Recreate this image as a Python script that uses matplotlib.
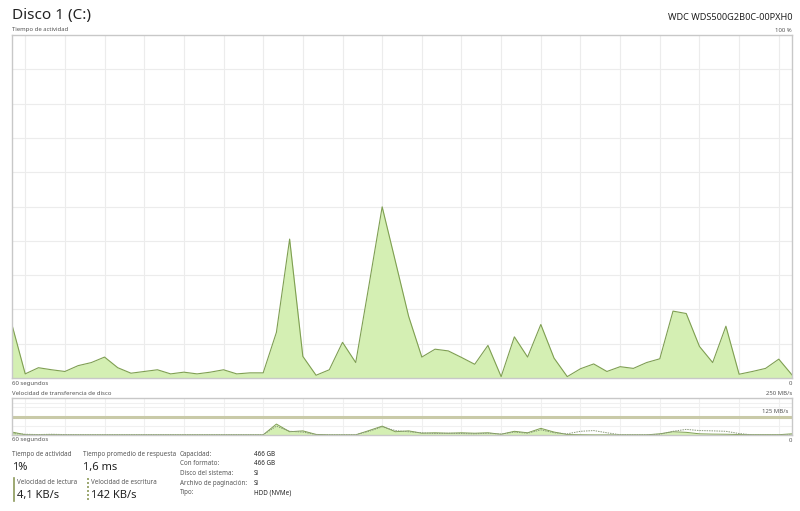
import matplotlib
matplotlib.use('Agg')
import matplotlib.pyplot as plt
import numpy as np

plt.rcParams['font.family'] = ['Noto Sans', 'DejaVu Sans']

# Tiempo de actividad (%), 60 muestras, de 60 segundos a 0
actividad = [15.5, 1.2, 3.0, 2.4, 1.9, 3.6, 4.5, 6.1, 3.0, 1.4,
             1.9, 2.4, 1.2, 1.7, 1.2, 1.7, 2.4, 1.2, 1.5, 1.5,
             13.3, 40.5, 6.3, 0.8, 2.4, 10.4, 4.5, 27.0, 49.9, 34.0,
             18.0, 6.1, 8.4, 7.9, 6.0, 4.0, 9.5, 0.4, 12.0, 6.1,
             15.6, 5.8, 0.4, 2.7, 4.1, 1.9, 3.3, 2.8, 4.5, 5.6,
             19.5, 18.8, 9.2, 4.5, 15.1, 1.1, 1.9, 2.8, 5.5, 0.9]

# Velocidad de transferencia (MB/s)
lectura = [20, 2, 1, 2, 1, 1, 1, 1, 1, 1,
           1, 1, 1, 1, 1, 1, 1, 1, 1, 1,
           74, 22, 28, 4, 1, 1, 1, 30, 60, 22,
           28, 12, 15, 12, 15, 12, 15, 5, 25, 15,
           45, 20, 3, 2, 1, 1, 1, 1, 1, 8,
           22, 18, 8, 6, 5, 3, 2, 2, 2, 8]
escritura = [10, 5, 3, 5, 3, 2, 2, 2, 2, 2,
             2, 2, 2, 2, 2, 2, 2, 2, 2, 2,
             60, 25, 20, 3, 2, 2, 2, 25, 55, 30,
             22, 15, 10, 12, 10, 8, 12, 6, 20, 12,
             35, 15, 8, 25, 30, 15, 2, 2, 2, 5,
             25, 38, 30, 28, 25, 10, 1, 1, 1, 1]

segundos = np.arange(len(actividad))

info_etiquetas = ['Capacidad:', 'Con formato:', 'Disco del sistema:',
                  'Archivo de paginación:', 'Tipo:']
info_valores = ['466 GB', '466 GB', 'Sí', 'Sí', 'HDD (NVMe)']

W, H = 800, 511
fig = plt.figure(figsize=(W / 100, H / 100), dpi=100)
fig.patch.set_facecolor('white')

verde_linea = '#7f9f52'
verde_relleno = '#d4efb3'
borde = '#c8c8c8'
rejilla = '#ececec'
gris_texto = '#555555'


def caja(x0, y0, x1, y1):
    # convierte pixeles (origen arriba a la izquierda) a coordenadas de figura
    return [x0 / W, 1 - y1 / H, (x1 - x0) / W, (y1 - y0) / H]


def texto(x, y, s, size, ha='left', color='#222222', va='center'):
    fig.text(x / W, 1 - y / H, s, fontsize=size, ha=ha, va=va, color=color)


# grafico principal
ax = fig.add_axes(caja(12, 35, 792, 378))
ax.fill_between(segundos, actividad, 0, color=verde_relleno, lw=0)
ax.plot(segundos, actividad, color=verde_linea, lw=0.8)
ax.set_xlim(0, len(actividad) - 1)
ax.set_ylim(0, 100)
for gx in np.arange(1, 60, 3):
    ax.axvline(gx, color=rejilla, lw=0.8, zorder=0)
for gy in np.arange(10, 100, 10):
    ax.axhline(gy, color=rejilla, lw=0.8, zorder=0)
ax.set_xticks([]); ax.set_yticks([])
for s in ax.spines.values():
    s.set_color(borde); s.set_linewidth(1)

# grafico de transferencia
ax2 = fig.add_axes(caja(12, 398, 792, 435))
ax2.fill_between(segundos, lectura, 0, color=verde_relleno, lw=0)
ax2.plot(segundos, lectura, color=verde_linea, lw=0.7)
ax2.plot(segundos, escritura, color='#8a9a7a', lw=0.7, ls=(0, (1.5, 1)))
ax2.set_xlim(0, len(lectura) - 1)
ax2.set_ylim(0, 250)
for gx in np.arange(1, 60, 3):
    ax2.axvline(gx, color='#f0f0f0', lw=0.8, zorder=0)
for gy in [62.5, 187.5, 218.75]:
    ax2.axhline(gy, color='#f0f0f0', lw=0.8, zorder=0)
ax2.axhline(125, color='#c9caa8', lw=2.2, zorder=1)
ax2.set_xticks([]); ax2.set_yticks([])
for s in ax2.spines.values():
    s.set_color(borde); s.set_linewidth(1)

# textos de cabecera
texto(12, 16, 'Disco 1 (C:)', 11, va='center')
texto(792, 17, 'WDC WDS500G2B0C-00PXH0', 6.6, ha='right')
texto(12, 30, 'Tiempo de actividad', 4.3, color=gris_texto)
texto(792, 30, '100 %', 4.3, ha='right', color=gris_texto)
texto(12, 383, '60 segundos', 4.3, color=gris_texto)
texto(792, 383, '0', 4.3, ha='right', color=gris_texto)
texto(12, 393, 'Velocidad de transferencia de disco', 4.3, color=gris_texto)
texto(792, 393, '250 MB/s', 4.3, ha='right', color=gris_texto)
texto(788, 411, '125 MB/s', 4.3, ha='right', color=gris_texto)
texto(12, 440, '60 segundos', 4.3, color=gris_texto)
texto(792, 440, '0', 4.3, ha='right', color=gris_texto)

# estadisticas
texto(12, 454, 'Tiempo de actividad', 4.5, color=gris_texto)
texto(12, 467, '1%', 8)
texto(83, 454, 'Tiempo promedio de respuesta', 4.5, color=gris_texto)
texto(83, 467, '1,6 ms', 8)
texto(17, 482, 'Velocidad de lectura', 4.5, color=gris_texto)
texto(17, 495, '4,1 KB/s', 8)
texto(91, 482, 'Velocidad de escritura', 4.5, color=gris_texto)
texto(91, 495, '142 KB/s', 8)

fig.add_artist(plt.Line2D([13.5 / W, 13.5 / W], [1 - 478 / H, 1 - 501 / H],
                          color='#8c9a5a', lw=1.2))
fig.add_artist(plt.Line2D([87.5 / W, 87.5 / W], [1 - 478 / H, 1 - 501 / H],
                          color='#8c9a5a', lw=1.2, ls=(0, (1.2, 1.2))))

for i, (et, val) in enumerate(zip(info_etiquetas, info_valores)):
    yy = 454 + i * 9.7
    texto(180, yy, et, 4.5, color=gris_texto)
    texto(254, yy, val, 4.5, color='#222222')

fig.savefig('out.png', dpi=100, facecolor='white')
